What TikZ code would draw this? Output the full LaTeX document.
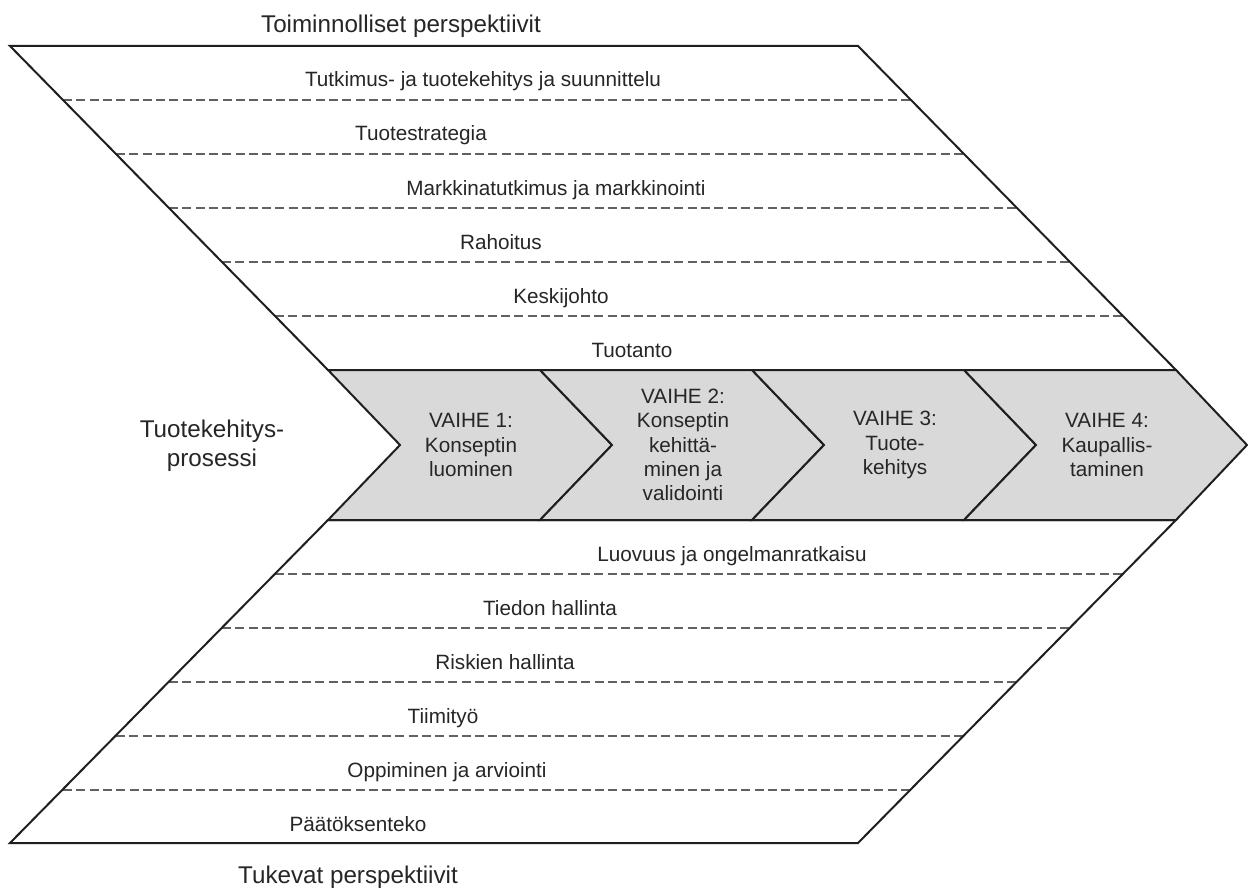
\documentclass[tikz,border=0pt]{standalone}
\usepackage{fontspec}
\setmainfont{Liberation Sans}
\begin{document}
\begin{tikzpicture}[x=1pt,y=-1pt,
  outline/.style={draw=black!88, line width=2pt, line join=miter},
  phasebox/.style={outline, fill=black!15},
  rowsep/.style={draw=black!62, line width=1.6pt, dash pattern=on 9pt off 4.3pt},
  lbl/.style={font=\fontsize{20.7}{24.2}\selectfont, text=black!85, anchor=base, inner sep=0pt},
  ttl/.style={font=\fontsize{24.2}{29}\selectfont, text=black!85, anchor=base, inner sep=0pt},
  phase/.style={font=\fontsize{20.7}{24.2}\selectfont, text=black!85, align=center, inner sep=0pt}]
\useasboundingbox (0,0) rectangle (1248,888);
\fill[white] (0,0) rectangle (1248,888);

% row separators of the upper block
\draw[rowsep] (63,100) -- (911,100);
\draw[rowsep] (116,154) -- (964,154);
\draw[rowsep] (169,208) -- (1017,208);
\draw[rowsep] (222,262) -- (1070,262);
\draw[rowsep] (275,316) -- (1123,316);
% row separators of the lower block
\draw[rowsep] (275,574) -- (1123,574);
\draw[rowsep] (222,628) -- (1070,628);
\draw[rowsep] (169,682) -- (1017,682);
\draw[rowsep] (116,736) -- (964,736);
\draw[rowsep] (63,790) -- (911,790);

% upper and lower parallelograms
\draw[outline] (10,46) -- (858,46) -- (1176,370) -- (328,370) -- cycle;
\draw[outline] (328,520) -- (1176,520) -- (858,843) -- (10,843) -- cycle;

% process chevrons
\draw[phasebox] (328,370) -- (540,370) -- (612,445) -- (540,520) -- (328,520) -- (400,445) -- cycle;
\draw[phasebox] (540,370) -- (752,370) -- (824,445) -- (752,520) -- (540,520) -- (612,445) -- cycle;
\draw[phasebox] (752,370) -- (964,370) -- (1036,445) -- (964,520) -- (752,520) -- (824,445) -- cycle;
\draw[phasebox] (964,370) -- (1176,370) -- (1247,445) -- (1176,520) -- (964,520) -- (1036,445) -- cycle;

% titles
\node[ttl] (top) at (401,33) {Toiminnolliset perspektiivit};
\node[ttl] (bottom) at (348,883) {Tukevat perspektiivit};
\node[ttl, align=center, anchor=north] (proc) at (212,420) {Tuotekehitys-\\prosessi};

% functional perspectives
\node[lbl] (f1) at (483,87) {Tutkimus- ja tuotekehitys ja suunnittelu};
\node[lbl] (f2) at (421,141) {Tuotestrategia};
\node[lbl] (f3) at (556,195) {Markkinatutkimus ja markkinointi};
\node[lbl] (f4) at (501,249) {Rahoitus};
\node[lbl] (f5) at (561,303) {Keskijohto};
\node[lbl] (f6) at (632,357) {Tuotanto};

% supporting perspectives
\node[lbl] (s1) at (732,561) {Luovuus ja ongelmanratkaisu};
\node[lbl] (s2) at (550,615) {Tiedon hallinta};
\node[lbl] (s3) at (505,669) {Riskien hallinta};
\node[lbl] (s4) at (443,723) {Tiimityö};
\node[lbl] (s5) at (447,777) {Oppiminen ja arviointi};
\node[lbl] (s6) at (358,831) {Päätöksenteko};

% phases
\node[phase] (p1) at (471,445) {VAIHE 1:\\Konseptin\\luominen};
\node[phase] (p2) at (683,445) {VAIHE 2:\\Konseptin\\kehittä-\\minen ja\\validointi};
\node[phase] (p3) at (895,445) {VAIHE 3:\\Tuote-\\kehitys};
\node[phase] (p4) at (1107,445) {VAIHE 4:\\Kaupallis-\\taminen};
\end{tikzpicture}
\end{document}
